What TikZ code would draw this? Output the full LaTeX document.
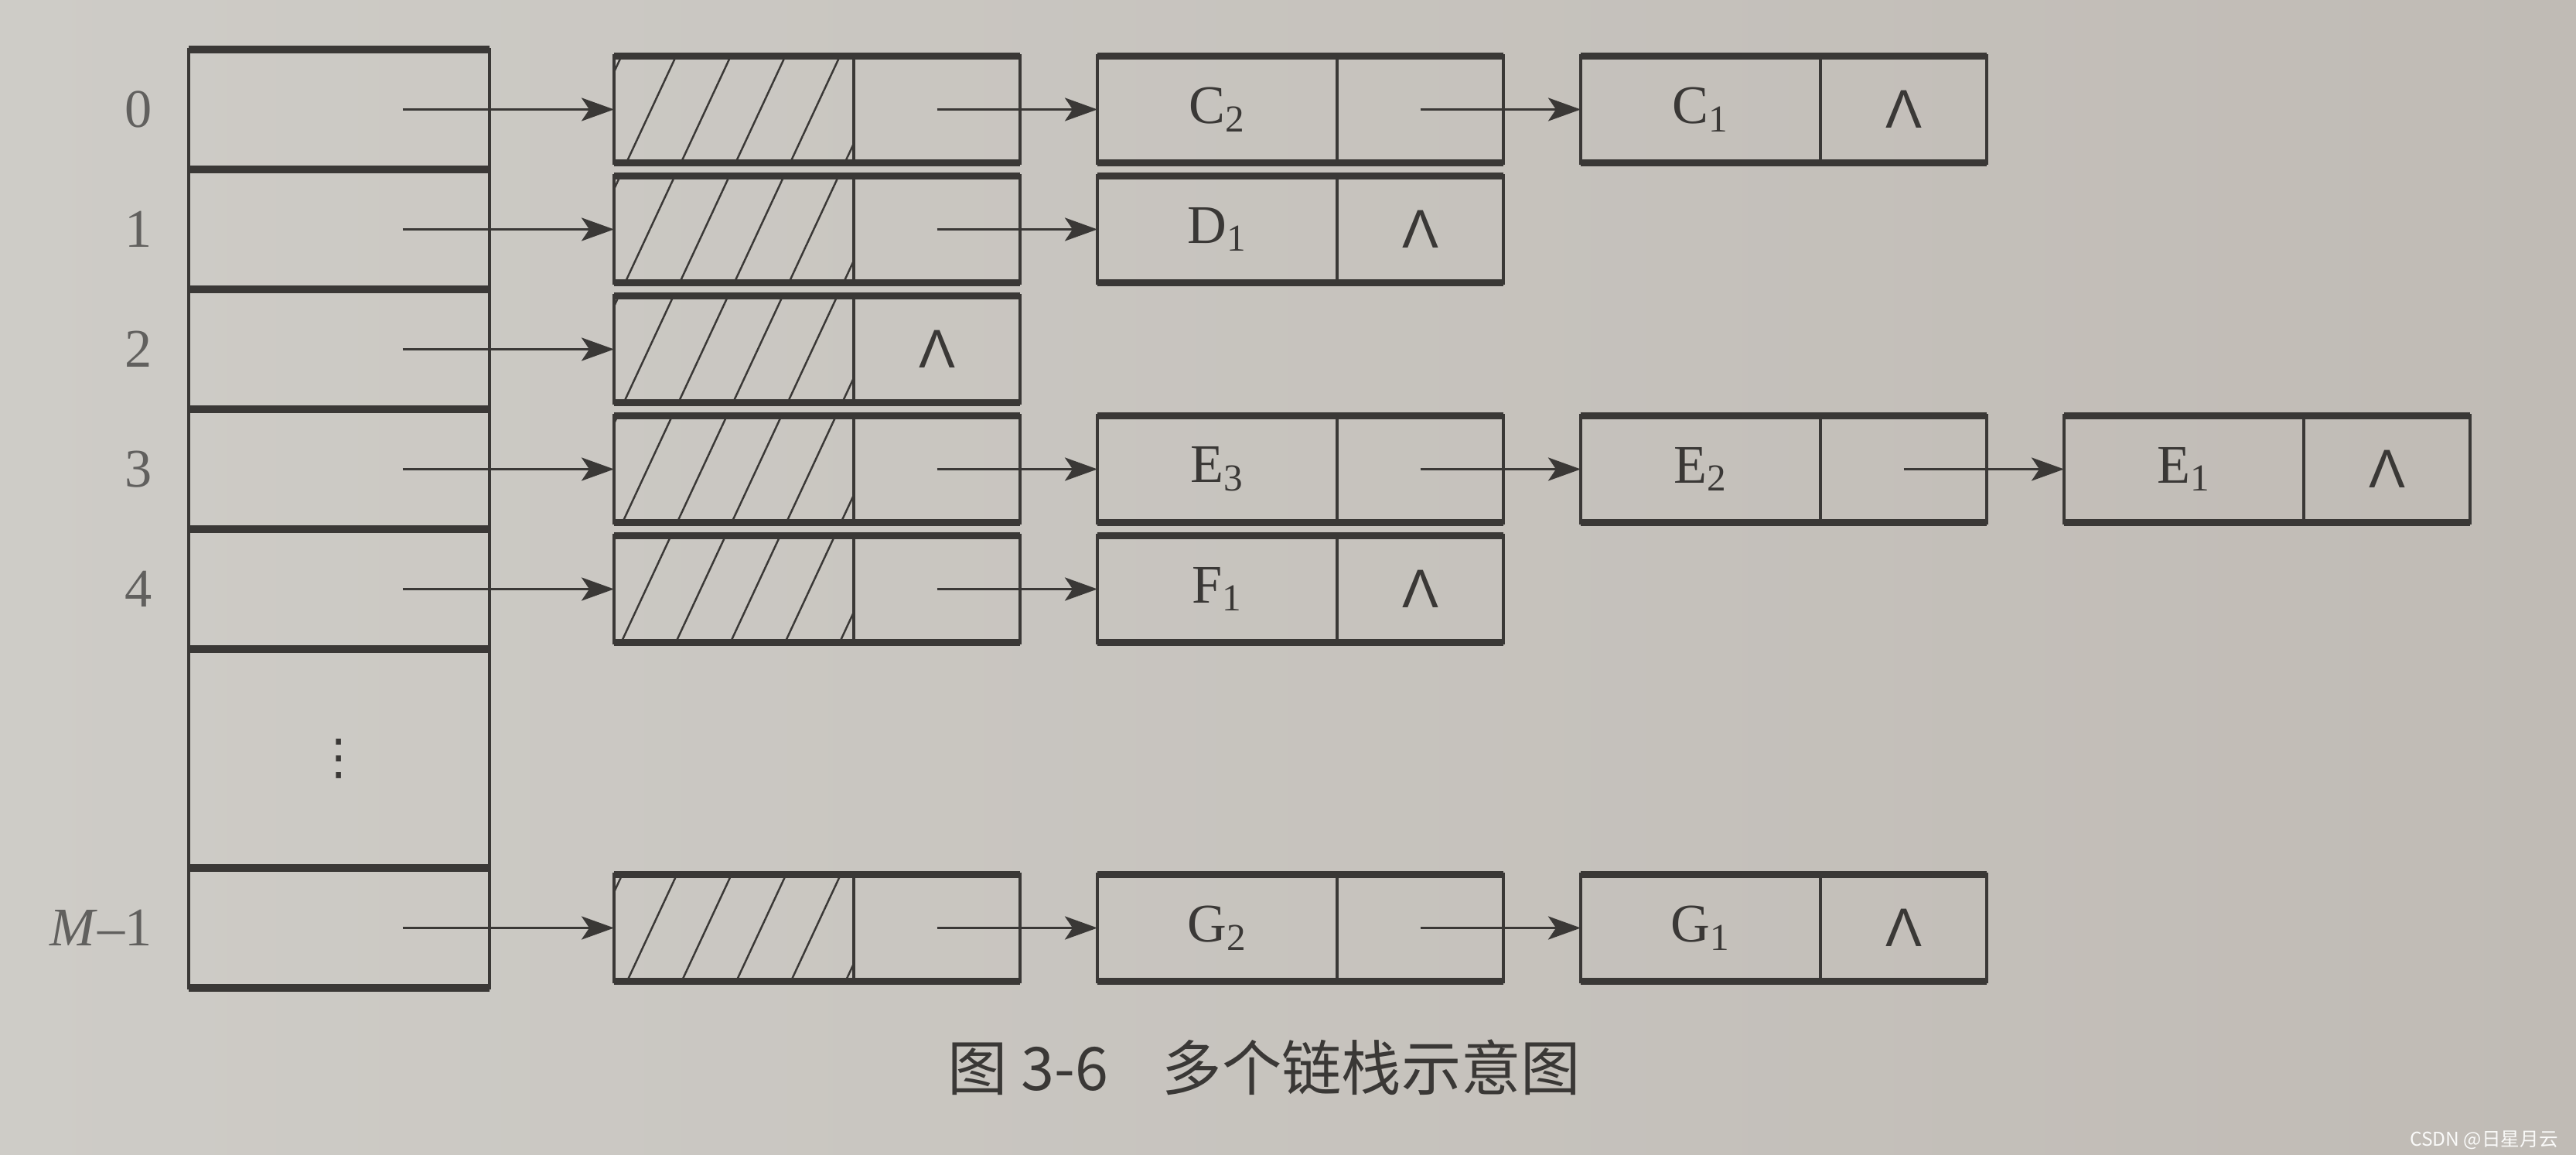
\documentclass[tikz,border=0pt]{standalone}
\usepackage{fontspec}
\setmainfont{Liberation Serif}
\newfontfamily\cjk{Noto Sans CJK SC}
\newfontfamily\lamfont{Liberation Sans}
\newfontfamily\symfont{DejaVu Sans}
\usetikzlibrary{positioning,arrows.meta,patterns.meta}
\definecolor{paperA}{RGB}{206,204,199}
\definecolor{paperL}{RGB}{220,218,214}
\definecolor{paperB}{RGB}{192,187,181}
\definecolor{ink}{RGB}{58,56,54}
\tikzstyle{slot} = [draw=ink, line width=1.2pt, rectangle, outer sep=0pt,
    inner sep=0pt, minimum width=3.89cm, minimum height=1.55cm]
\tikzstyle{dat} = [draw=ink, line width=1.2pt, rectangle, outer sep=0pt,
    inner sep=0pt, minimum width=3.1cm, minimum height=1.38cm,
    font=\fontsize{20}{24}\selectfont, text=ink]
\tikzstyle{lnk} = [dat, minimum width=2.15cm]
\tikzstyle{hatched} = [pattern={Lines[angle=65,distance=6.4mm,line width=0.7pt]},
    pattern color=ink]
\tikzstyle{rim} = [draw=ink, line width=2.6pt]
\tikzstyle{idx} = [left=0.35cm of #1, font=\fontsize{20}{24}\selectfont, text=ink!80]
\tikzstyle{nxt} = [right=1cm of #1]
\tikzstyle{ptr} = [draw=ink, line width=1pt,
    -{Stealth[length=4.2mm,width=3mm,inset=1mm]}]
\newcommand{\tailnil}{{\lamfont Λ}}
\newcommand{\linkpair}[4]{
  \node[dat, #2] (#1) {#3};
  \node[lnk, right=0pt of #1] (#1-n) {#4};
  \draw[rim] (#1.north west) -- (#1-n.north east);
  \draw[rim] (#1.south west) -- (#1-n.south east);
}

\begin{document}
\begin{tikzpicture}

\shade[left color=paperA, middle color=paperL, right color=paperB]
  (0,0) rectangle (33.31,-14.93);
\useasboundingbox (0,0) rectangle (33.31,-14.93);

% array of stack tops
\node[slot] (s0) at (4.385,-1.415) {};
\node[slot, below=0pt of s0] (s1) {};
\node[slot, below=0pt of s1] (s2) {};
\node[slot, below=0pt of s2] (s3) {};
\node[slot, below=0pt of s3] (s4) {};
\node[slot, below=0pt of s4, minimum height=2.83cm,
  font=\symfont\fontsize{18}{18}\selectfont, text=ink] (sdots) {⋮};
\node[slot, below=0pt of sdots] (sM) {};
\foreach \s in {s0,s1,s2,s3,s4,sdots,sM}
  \draw[rim] (\s.north west) -- (\s.north east);
\draw[rim] (sM.south west) -- (sM.south east);

\node[idx=s0] (i0) {0};
\node[idx=s1] (i1) {1};
\node[idx=s2] (i2) {2};
\node[idx=s3] (i3) {3};
\node[idx=s4] (i4) {4};
\node[idx=sM] (iM) {\textit{M}–1};

% head nodes
\linkpair{h0}{hatched, right=1.61cm of s0}{}{}
\linkpair{h1}{hatched, right=1.61cm of s1}{}{}
\linkpair{h2}{hatched, right=1.61cm of s2}{}{\tailnil}
\linkpair{h3}{hatched, right=1.61cm of s3}{}{}
\linkpair{h4}{hatched, right=1.61cm of s4}{}{}
\linkpair{hM}{hatched, right=1.61cm of sM}{}{}

% the stacks
\linkpair{C2}{nxt=h0-n}{C\textsubscript{2}}{}
\linkpair{C1}{nxt=C2-n}{C\textsubscript{1}}{\tailnil}
\linkpair{D1}{nxt=h1-n}{D\textsubscript{1}}{\tailnil}
\linkpair{E3}{nxt=h3-n}{E\textsubscript{3}}{}
\linkpair{E2}{nxt=E3-n}{E\textsubscript{2}}{}
\linkpair{E1}{nxt=E2-n}{E\textsubscript{1}}{\tailnil}
\linkpair{F1}{nxt=h4-n}{F\textsubscript{1}}{\tailnil}
\linkpair{G2}{nxt=hM-n}{G\textsubscript{2}}{}
\linkpair{G1}{nxt=G2-n}{G\textsubscript{1}}{\tailnil}

\foreach \r in {0,1,2,3,4,M}
  \draw[ptr] ([xshift=0.82cm]s\r.center) -- (h\r.west);
\draw[ptr] (h0-n.center) -- (C2.west);
\draw[ptr] (C2-n.center) -- (C1.west);
\draw[ptr] (h1-n.center) -- (D1.west);
\draw[ptr] (h3-n.center) -- (E3.west);
\draw[ptr] (E3-n.center) -- (E2.west);
\draw[ptr] (E2-n.center) -- (E1.west);
\draw[ptr] (h4-n.center) -- (F1.west);
\draw[ptr] (hM-n.center) -- (G2.west);
\draw[ptr] (G2-n.center) -- (G1.west);

\node[font=\cjk\fontsize{22}{22}\selectfont, text=ink] (cap) at (16.35,-13.8)
  {图 3-6\hspace{0.9em}多个链栈示意图};
\node[font=\cjk\fontsize{7}{7}\selectfont, text=white!92!paperB, anchor=east]
  (wm) at (33.2,-14.74) {CSDN @日星月云};

\end{tikzpicture}
\end{document}
